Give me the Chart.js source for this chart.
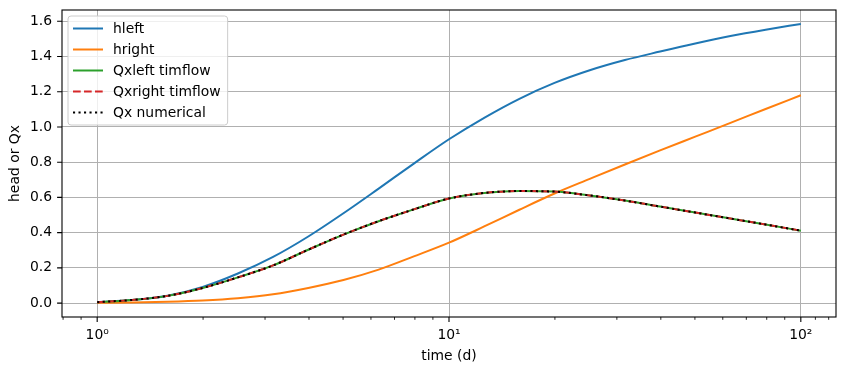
<!DOCTYPE html>
<html>
<head>
<meta charset="utf-8">
<script src="https://cdn.jsdelivr.net/npm/chart.js@4/dist/chart.umd.min.js"></script>
<style>
  html, body { margin: 0; padding: 0; background: #fff; }
  #wrap { width: 846px; height: 375px; }
</style>
</head>
<body>
<div id="wrap"><canvas id="c" width="846" height="375"></canvas></div>
<script>
// ---- data ----
const times = [1, 1.259, 1.585, 1.995, 2.512, 3.162, 3.981, 5.012, 6.31, 7.943, 10,
               12.59, 15.85, 19.95, 25.12, 31.62, 39.81, 50.12, 63.1, 79.43, 100];
const hleft = [0.005, 0.017, 0.042, 0.092, 0.168, 0.262, 0.378, 0.51, 0.65, 0.792, 0.93,
               1.052, 1.16, 1.25, 1.322, 1.38, 1.428, 1.474, 1.516, 1.552, 1.585];
const hright = [0.002, 0.004, 0.008, 0.015, 0.028, 0.050, 0.086, 0.131, 0.19, 0.265, 0.343,
                0.435, 0.53, 0.622, 0.705, 0.787, 0.867, 0.945, 1.023, 1.102, 1.18];
const qxLeft = [0.005, 0.018, 0.041, 0.086, 0.146, 0.214, 0.303, 0.389, 0.465, 0.532, 0.594,
                0.625, 0.636, 0.633, 0.611, 0.582, 0.548, 0.514, 0.48, 0.446, 0.411];
const qxRight = [0.005, 0.018, 0.041, 0.086, 0.146, 0.214, 0.303, 0.389, 0.465, 0.532, 0.594,
                 0.625, 0.636, 0.633, 0.611, 0.582, 0.548, 0.514, 0.48, 0.446, 0.411];
const qxNum = [0.005, 0.018, 0.041, 0.086, 0.146, 0.214, 0.303, 0.389, 0.465, 0.532, 0.594,
               0.625, 0.636, 0.633, 0.611, 0.582, 0.548, 0.514, 0.48, 0.446, 0.411];
const seriesLabels = ['hleft', 'hright', 'Qxleft timflow', 'Qxright timflow', 'Qx numerical'];
const xMajorTicks = [1, 10, 100];
const xMajorLabels = ['10\u2070', '10\u00B9', '10\u00B2'];
const xMinorTicks = [0.8, 0.9, 2, 3, 4, 5, 6, 7, 8, 9, 20, 30, 40, 50, 60, 70, 80, 90, 110, 120];
const yTicks = [0, 0.2, 0.4, 0.6, 0.8, 1.0, 1.2, 1.4, 1.6];
const xLabel = 'time (d)';
const yLabel = 'head or Qx';

// ---- build ----
const pts = arr => times.map((t, i) => ({ x: t, y: arr[i] }));
const FONT = 'DejaVu Sans';
const FS = 13.9;

const styles = [
  { color: '#1f77b4', dash: [] },
  { color: '#ff7f0e', dash: [] },
  { color: '#2ca02c', dash: [] },
  { color: '#d62728', dash: [7.7, 3.3] },
  { color: '#000000', dash: [2.1, 3.4] }
];
const allSeries = [hleft, hright, qxLeft, qxRight, qxNum];

const datasets = allSeries.map((s, i) => ({
  label: seriesLabels[i],
  data: pts(s),
  borderColor: styles[i].color,
  backgroundColor: styles[i].color,
  borderDash: styles[i].dash,
  borderWidth: 2,
  borderCapStyle: 'butt',
  pointRadius: 0,
  pointHoverRadius: 0,
  fill: false,
  cubicInterpolationMode: 'monotone',
  order: 5 - i
}));

const framePlugin = {
  id: 'frame',
  afterDatasetsDraw(chart) {
    const { ctx, chartArea: a, scales: { x, y } } = chart;
    ctx.save();
    ctx.strokeStyle = '#000';
    ctx.lineWidth = 1.1;
    ctx.beginPath();
    for (const v of xMajorTicks) {
      const px = x.getPixelForValue(v);
      ctx.moveTo(px, a.bottom); ctx.lineTo(px, a.bottom + 4.9);
    }
    for (const v of yTicks) {
      const py = y.getPixelForValue(v);
      ctx.moveTo(a.left, py); ctx.lineTo(a.left - 4.9, py);
    }
    ctx.stroke();
    ctx.lineWidth = 0.85;
    ctx.beginPath();
    for (const v of xMinorTicks) {
      const px = x.getPixelForValue(v);
      if (px < a.left || px > a.right) continue;
      ctx.moveTo(px, a.bottom); ctx.lineTo(px, a.bottom + 2.8);
    }
    ctx.stroke();
    ctx.lineWidth = 1.1;
    ctx.strokeRect(a.left, a.top, a.right - a.left, a.bottom - a.top);

    // legend
    ctx.font = FS + 'px "' + FONT + '"';
    const items = chart.data.datasets;
    let maxW = 0;
    for (const d of items) maxW = Math.max(maxW, ctx.measureText(d.label).width);
    const bx = a.left + 6, by = a.top + 6;
    const bw = 45 + maxW + 7, bh = 109;
    const r = 3;
    ctx.beginPath();
    ctx.moveTo(bx + r, by);
    ctx.lineTo(bx + bw - r, by); ctx.arcTo(bx + bw, by, bx + bw, by + r, r);
    ctx.lineTo(bx + bw, by + bh - r); ctx.arcTo(bx + bw, by + bh, bx + bw - r, by + bh, r);
    ctx.lineTo(bx + r, by + bh); ctx.arcTo(bx, by + bh, bx, by + bh - r, r);
    ctx.lineTo(bx, by + r); ctx.arcTo(bx, by, bx + r, by, r);
    ctx.closePath();
    ctx.fillStyle = 'rgba(255,255,255,0.8)';
    ctx.fill();
    ctx.strokeStyle = '#cccccc';
    ctx.lineWidth = 1;
    ctx.stroke();
    items.forEach((d, i) => {
      const cy = by + 12.5 + i * 21;
      ctx.beginPath();
      ctx.setLineDash(d.borderDash || []);
      ctx.lineCap = 'butt';
      ctx.strokeStyle = d.borderColor;
      ctx.lineWidth = 2;
      ctx.moveTo(bx + 5, cy); ctx.lineTo(bx + 35, cy);
      ctx.stroke();
      ctx.setLineDash([]);
      ctx.fillStyle = '#000';
      ctx.textBaseline = 'middle';
      ctx.textAlign = 'left';
      ctx.fillText(d.label, bx + 45, cy + 0.5);
    });
    ctx.restore();
  }
};

new Chart(document.getElementById('c'), {
  type: 'line',
  data: { datasets },
  plugins: [framePlugin],
  options: {
    responsive: false,
    animation: false,
    events: [],
    layout: { padding: { left: 0, right: 10, top: 10, bottom: 0 } },
    plugins: { legend: { display: false }, tooltip: { enabled: false } },
    scales: {
      x: {
        type: 'logarithmic',
        min: Math.pow(10, -0.1),
        max: Math.pow(10, 2.1),
        afterBuildTicks: s => { s.ticks = xMajorTicks.map(v => ({ value: v, major: true })); },
        afterFit: s => { s.height = 58; s.paddingLeft = 0; s.paddingRight = 0; },
        ticks: {
          autoSkip: false,
          maxRotation: 0,
          color: '#000',
          padding: 10,
          font: { family: FONT, size: FS },
          callback: v => { const k = xMajorTicks.indexOf(v); return k >= 0 ? xMajorLabels[k] : ''; }
        },
        grid: { color: '#b0b0b0', lineWidth: 1, drawTicks: false },
        border: { display: false },
        title: { display: true, text: xLabel, color: '#000', font: { family: FONT, size: FS }, padding: { top: 0, bottom: 10 } }
      },
      y: {
        type: 'linear',
        min: -0.079,
        max: 1.664,
        afterBuildTicks: s => { s.ticks = yTicks.map(v => ({ value: v })); },
        afterFit: s => { s.width = 62; s.paddingTop = 0; s.paddingBottom = 0; },
        ticks: {
          color: '#000',
          padding: 10,
          font: { family: FONT, size: FS },
          callback: v => Number(v).toFixed(1)
        },
        grid: { color: '#b0b0b0', lineWidth: 1, drawTicks: false },
        border: { display: false },
        title: { display: true, text: yLabel, color: '#000', font: { family: FONT, size: FS }, padding: { top: 7, bottom: 0 } }
      }
    }
  }
});
</script>
</body>
</html>
